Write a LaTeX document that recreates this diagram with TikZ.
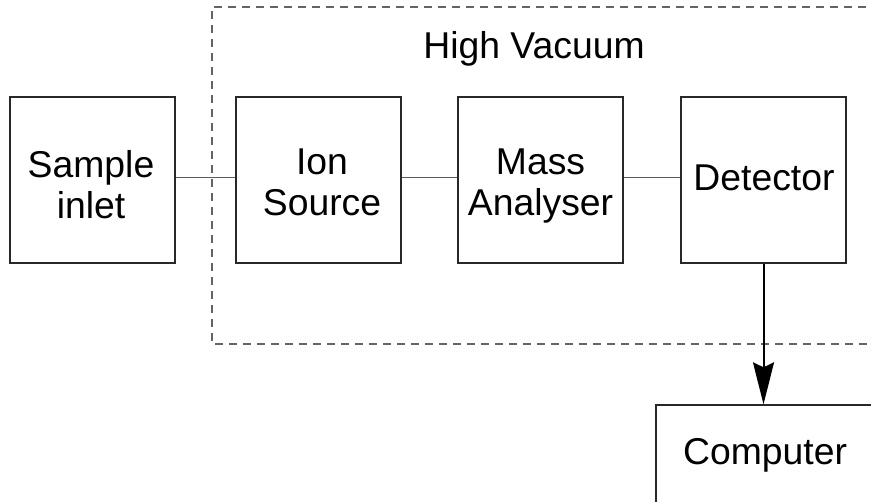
\documentclass[tikz,border=0pt]{standalone}
\usepackage{fontspec}
\setmainfont{Liberation Sans}
\usetikzlibrary{arrows.meta}

\tikzset{every picture/.style={line width=0.75pt}}

\begin{document}
\begin{tikzpicture}[x=0.75pt,y=0.75pt,yscale=-1,xscale=1,
  unit/.style={draw={rgb, 255:red, 40; green, 40; blue, 40 },line width=1pt,minimum width=123.75pt,minimum height=124.5pt,inner sep=0pt},
  txt/.style={anchor=north,inner sep=0pt,align=center,font=\fontsize{28}{31}\selectfont},
  link/.style={draw={rgb, 255:red, 90; green, 90; blue, 90 },line width=0.75pt}]
%set diagram left start at 0, and has height of 501
\useasboundingbox (0,0) rectangle (871,501);
\clip (0,0) rectangle (871,501);

%Shape: Rectangle, open to the right [id:vacuum]
\draw [color={rgb, 255:red, 100; green, 100; blue, 100 }  ,draw opacity=1 ][line width=1pt][dash pattern={on 6pt off 4.5pt}] (880,7) -- (212,7) -- (212,344) -- (880,344) ;

%Shape: Rectangle [id:sample]
\node (sample) at (92.5,180) [unit] {};
%Shape: Rectangle [id:ion]
\node (ion) at (318.5,180) [unit] {};
%Shape: Rectangle [id:mass]
\node (mass) at (540.5,180) [unit] {};
%Shape: Rectangle [id:det]
\node (det) at (763.5,180) [unit] {};
%Shape: Rectangle [id:comp]
\node (comp) at (765,455) [unit,minimum width=163.5pt,minimum height=75pt] {};

% Text Node
\node (hvtxt) at (534,30.5) [txt] {High Vacuum};
% Text Node
\node (sampletxt) at (91,149.5) [txt] {Sample\\inlet};
% Text Node
\node (iontxt) at (322,148) [txt] {Ion\\Source};
% Text Node
\node (masstxt) at (540.5,148) [txt] {Mass\\Analyser};
% Text Node
\node (dettxt) at (764,164.5) [txt] {Detector};
% Text Node
\node (comptxt) at (765,437.5) [txt] {Computer};

%Straight Lines
\draw [link] ([yshift=-2.25pt]sample.east) -- ([yshift=-2.25pt]ion.west) ;
\draw [link] ([yshift=-2.25pt]ion.east) -- ([yshift=-2.25pt]mass.west) ;
\draw [link] ([yshift=-2.25pt]mass.east) -- ([yshift=-2.25pt]det.west) ;
%Arrow
\draw [line width=1.5pt,-{Stealth[length=31.5pt,width=15.75pt,inset=3.75pt]}] (det.south) -- (det.south |- comp.north) ;

\end{tikzpicture}
\end{document}
